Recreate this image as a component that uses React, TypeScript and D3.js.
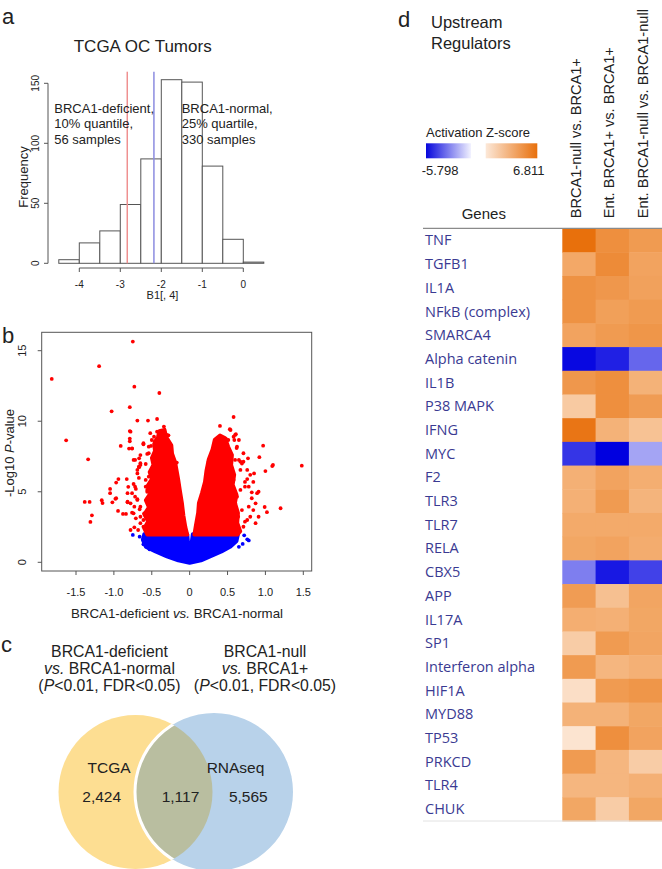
import React from 'react';
import * as d3 from 'd3';

// ---- panel a: histogram of B1[, 4] ----
const histBinStarts = [-4.5, -4, -3.5, -3, -2.5, -2, -1.5, -1, -0.5, 0];
const histCounts = [3, 17, 27, 49, 87, 153, 151, 81, 20, 1];
const histTicksX = [-4, -3, -2, -1, 0];
const histTicksY = [0, 50, 100, 150];
const cutoffDeficient = -2.83;
const cutoffNormal = -2.18;
const noteDeficient = ['BRCA1-deficient,', '10% quantile,', '56 samples'];
const noteNormal = ['BRCA1-normal,', '25% quartile,', '330 samples'];

// ---- panel b: volcano ----
const volcanoTicksX = [-1.5, -1, -0.5, 0, 0.5, 1, 1.5];
const volcanoTickLabelsX = ['-1.5', '-1.0', '-0.5', '0', '0.5', '1.0', '1.5'];
const volcanoTicksY = [0, 5, 10, 15];
const blueCloud: [number, number][] = [
  [-0.6, 2.0], [-0.62, 1.6], [-0.58, 1.1], [-0.45, 0.75], [-0.3, 0.4], [-0.15, 0.12], [0, -0.05],
  [0.15, 0.12], [0.27, 0.4], [0.42, 0.75], [0.54, 1.1], [0.62, 1.5], [0.64, 2.0],
  [0.04, 2.0], [0.004, 0.55], [-0.004, 0.55], [-0.03, 2.0],
];
const redCloudLeft: [number, number][] = [
  [-0.56, 1.95], [-0.6, 2.4], [-0.55, 2.9], [-0.6, 3.4], [-0.54, 3.9], [-0.58, 4.4], [-0.52, 4.9],
  [-0.56, 5.4], [-0.5, 5.9], [-0.53, 6.4], [-0.48, 6.9], [-0.5, 7.4], [-0.46, 7.9], [-0.47, 8.4],
  [-0.42, 8.9], [-0.4, 9.3], [-0.33, 9.4], [-0.31, 8.9], [-0.24, 8.3], [-0.23, 7.7], [-0.19, 7.1],
  [-0.17, 6.5], [-0.15, 5.9], [-0.13, 5.2], [-0.1, 4.2], [-0.08, 3.3], [-0.055, 2.5], [-0.03, 1.95],
];
const redCloudRight: [number, number][] = [
  [0.06, 1.95], [0.08, 2.6], [0.11, 3.5], [0.12, 4.2], [0.16, 4.9], [0.2, 5.7], [0.22, 6.5],
  [0.25, 7.3], [0.3, 8.0], [0.33, 8.7], [0.4, 9.0], [0.47, 8.8], [0.51, 8.2], [0.56, 7.6],
  [0.55, 6.9], [0.59, 6.2], [0.57, 5.5], [0.62, 4.8], [0.6, 4.2], [0.64, 3.5], [0.63, 2.8],
  [0.67, 2.2], [0.63, 1.95],
];
const redPoints: [number, number][] = [
  [-1.82, 13.0], [-0.75, 15.65], [-1.195, 13.9], [-0.73, 12.45], [-0.4, 12.0], [-0.79, 11.0],
  [-1.03, 10.7], [-1.63, 8.65], [-0.69, 10.05], [-0.55, 10.05], [-0.43, 10.16], [-1.34, 7.3],
  [-0.91, 8.25], [-1.385, 4.28], [-1.32, 4.28], [-1.29, 3.33], [-1.31, 2.86], [-1.16, 4.4],
  [-1.15, 4.2], [-1.05, 5.2], [-1.05, 4.9], [-0.98, 4.5], [-0.97, 5.65], [-0.94, 5.9],
  [-0.945, 3.64], [-0.83, 5.9], [-0.81, 5.35], [-1.02, 4.25], [-0.82, 4.9], [-0.82, 4.25],
  [-0.88, 3.43], [-0.84, 3.43], [-0.78, 2.29], [-0.79, 9.3], [-0.79, 8.77], [-0.79, 8.58],
  [-0.8, 8.06], [-0.76, 8.06], [-0.61, 8.37], [-0.51, 8.25], [-0.46, 8.58], [-0.28, 9.0],
  [-0.78, 9.26], [-0.54, 8.2], [-0.72, 7.26], [-0.67, 6.78], [-0.76, 8.08], [-0.5, 8.67],
  [-0.47, 8.9], [-0.43, 9.26], [-0.4, 9.15], [-0.3, 9.03], [-0.34, 8.67], [-0.28, 8.44],
  [-0.17, 7.07], [-0.65, 7.6], [-0.667, 7.37], [-0.65, 6.9], [-0.667, 6.74], [-0.56, 7.68],
  [-0.58, 6.97], [-0.69, 6.3], [-0.67, 5.98], [-0.74, 5.55], [-0.71, 5.2], [-0.76, 4.9],
  [-0.72, 4.65], [-0.69, 4.47], [-0.78, 4.18], [-0.73, 3.94], [-0.66, 3.76], [-0.76, 3.52],
  [-0.65, 3.23], [-0.71, 3.12], [-0.65, 2.77], [-0.73, 2.48], [-0.68, 2.29], [-0.61, 2.52],
  [-0.58, 5.36], [-0.57, 4.42], [-0.6, 3.47], [-0.54, 6.07], [-0.56, 5.0], [-0.97, 4.54],
  [-0.82, 4.3], [-0.74, 7.26], [-0.69, 6.55], [-0.72, 5.36], [-0.69, 4.42], [-0.65, 3.94],
  [-0.74, 3.47], [-0.61, 3.0], [-0.58, 5.84], [-0.56, 5.13], [-0.54, 7.73], [-0.61, 8.44],
  [-0.65, 7.02], [-0.52, 9.15], [-0.39, 9.15], [-0.34, 9.62],
  [0.58, 10.3], [0.4, 9.67], [0.53, 9.43], [0.61, 9.08], [0.48, 8.74], [0.59, 8.67], [0.97, 8.27],
  [0.62, 8.1], [1.48, 6.85], [1.1, 6.9], [1.09, 6.82], [1.0, 6.47], [0.92, 7.45], [0.77, 7.37],
  [1.2, 3.83], [1.02, 3.55], [0.99, 3.92], [0.91, 5.0], [0.82, 4.96], [0.85, 6.3], [0.76, 5.9],
  [0.65, 7.26], [0.69, 7.0], [0.76, 6.55], [0.8, 6.2], [0.84, 5.7], [0.73, 5.7], [0.78, 5.36],
  [0.89, 4.9], [0.82, 4.54], [0.87, 4.18], [0.78, 3.94], [0.84, 3.7], [0.91, 3.23], [0.8, 3.23],
  [0.73, 2.88], [0.71, 2.52], [0.87, 2.77], [0.65, 2.29], [0.67, 5.13], [0.6, 4.18], [0.64, 3.23],
  [0.58, 5.84], [0.6, 7.26], [0.51, 7.73], [0.71, 7.13], [0.32, 7.73], [0.38, 8.2], [0.45, 8.44],
  [0.51, 8.67], [0.58, 8.9], [0.625, 8.2], [0.67, 7.13], [0.25, 7.13], [0.295, 6.78],
  [0.23, 5.84], [0.18, 4.9], [0.71, 7.73], [0.67, 6.55], [0.73, 5.36], [0.625, 4.65], [0.69, 3.7],
  [0.76, 3.0], [0.65, 8.67], [0.54, 9.38], [0.6, 9.03],
];
const bluePoints: [number, number][] = [
  [-0.75, 1.94], [-0.66, 1.82], [-0.61, 1.28], [-0.53, 0.92],
  [0.76, 1.63], [0.72, 1.91], [0.78, 1.55], [0.7, 1.3], [0.65, 1.1],
];

// ---- panel c: venn ----
const vennTitleLeft = ['BRCA1-deficient', 'vs. BRCA1-normal', '(P<0.01, FDR<0.05)'];
const vennTitleRight = ['BRCA1-null', 'vs. BRCA1+', '(P<0.01, FDR<0.05)'];
const vennSets = ['TCGA', 'RNAseq'];
const vennCounts = ['2,424', '1,117', '5,565'];

// ---- panel d: upstream regulators heatmap ----
const genes = ['TNF', 'TGFB1', 'IL1A', 'NFkB (complex)', 'SMARCA4', 'Alpha catenin', 'IL1B',
  'P38 MAPK', 'IFNG', 'MYC', 'F2', 'TLR3', 'TLR7', 'RELA', 'CBX5', 'APP', 'IL17A', 'SP1',
  'Interferon alpha', 'HIF1A', 'MYD88', 'TP53', 'PRKCD', 'TLR4', 'CHUK'];
const comparisons = ['BRCA1-null vs. BRCA1+', 'Ent. BRCA1+ vs. BRCA1+', 'Ent. BRCA1-null vs. BRCA1-null'];
const zNullVsPlus = [6.8, 3.5, 4.8, 4.8, 3.8, -5.6, 4.5, 1.8, 6.5, -4.5, 3.1, 3.1, 3.4, 3.6, -2.7,
  4.2, 3.2, 1.7, 4.3, 0.8, 3.0, 0.5, 4.3, 2.8, 3.6];
const zEntPlusVsPlus = [5.0, 5.2, 4.5, 4.0, 4.3, -5.0, 5.0, 5.0, 3.0, -5.798, 3.8, 4.3, 3.4, 3.8,
  -5.2, 2.3, 3.1, 4.3, 2.8, 4.3, 3.0, 5.0, 2.8, 2.8, 1.7];
const zEntNullVsNull = [4.3, 3.8, 3.9, 4.3, 4.6, -3.3, 3.0, 4.2, 2.2, -1.8, 3.2, 2.9, 3.4, 3.3,
  -4.2, 3.7, 3.6, 3.7, 3.1, 4.6, 3.6, 3.8, 1.7, 3.1, 3.6];
const zMin = -5.798;
const zMax = 6.811;

const sans = 'Liberation Sans, Arial, Helvetica, sans-serif';
const ink = '#222';

const App = () => {
  // histogram scales
  const hx = d3.scaleLinear().domain([-4, 0]).range([79.3, 243.3]);
  const hy = d3.scaleLinear().domain([0, 150]).range([263.3, 83.3]);

  // volcano scales
  const vx = d3.scaleLinear().domain([-1.5, 1.5]).range([76, 303.3]);
  const vy = d3.scaleLinear().domain([0, 15]).range([562.3, 350.7]);
  const box = { left: 41.7, right: 311.7, top: 332.3, bottom: 571 };
  const cloud = d3.line<[number, number]>().x((d) => vx(d[0])).y((d) => vy(d[1]));

  // heatmap scales
  const rowScale = d3.scaleBand<string>().domain(genes).range([228.6, 821]);
  const colScale = d3.scaleBand<string>().domain(comparisons).range([562.3, 662.2]);
  const posColor = d3.scaleLinear<string>().domain([0, 3.4, zMax]).range(['#fdeee2', '#f3aa6a', '#e8700c']);
  const negColor = d3.scaleLinear<string>().domain([zMin, -2.9, 0]).range(['#0000e0', '#7676ee', '#f0f0ff']);
  const zColor = (z: number) => (z < 0 ? negColor(z) : posColor(z));
  const zColumns = [zNullVsPlus, zEntPlusVsPlus, zEntNullVsNull];

  // venn geometry
  const cy = 792;
  const left = { cx: 135.5, r: 77 };
  const right = { cx: 214, r: 79 };

  return (
    <svg width={662} height={869} style={{ position: 'absolute', left: 0, top: 0, background: '#fff' }}
      fontFamily={sans}>
      <defs>
        <clipPath id="clipRight"><circle cx={right.cx} cy={cy} r={right.r} /></clipPath>
        <clipPath id="clipLeft"><circle cx={left.cx} cy={cy} r={left.r} /></clipPath>
        <linearGradient id="gradBlue" x1="0" x2="1" y1="0" y2="0">
          <stop offset="0" stopColor="#0606dc" />
          <stop offset="1" stopColor="#f2f2ff" />
        </linearGradient>
        <linearGradient id="gradOrange" x1="0" x2="1" y1="0" y2="0">
          <stop offset="0" stopColor="#fce8d8" />
          <stop offset="1" stopColor="#e8700c" />
        </linearGradient>
      </defs>

      {/* ---------------- a ---------------- */}
      <text x={2} y={24} fontSize={22} fill={ink}>a</text>
      <text x={142.7} y={51.7} fontSize={17} textAnchor="middle" fill={ink}>TCGA OC Tumors</text>
      {histCounts.map((c, i) => (
        <rect key={i} x={hx(histBinStarts[i])} y={hy(c)} width={hx(histBinStarts[i] + 0.5) - hx(histBinStarts[i])}
          height={hy(0) - hy(c)} fill="#fff" stroke="#555" strokeWidth={1} />
      ))}
      <line x1={hx(cutoffDeficient)} x2={hx(cutoffDeficient)} y1={71.7} y2={hy(0)} stroke="#ef9090" strokeWidth={1.5} />
      <line x1={hx(cutoffNormal)} x2={hx(cutoffNormal)} y1={71.7} y2={hy(0)} stroke="#8c8ce0" strokeWidth={1.5} />
      {/* x axis */}
      <line x1={hx(-4)} x2={hx(0)} y1={268} y2={268} stroke="#555" />
      {histTicksX.map((t) => (
        <g key={t}>
          <line x1={hx(t)} x2={hx(t)} y1={268} y2={272} stroke="#555" />
          <text x={hx(t)} y={288.3} fontSize={10} textAnchor="middle" fill={ink}>{t}</text>
        </g>
      ))}
      <text x={162.5} y={299.3} fontSize={11} textAnchor="middle" fill={ink}>B1[, 4]</text>
      {/* y axis */}
      <line x1={48} x2={48} y1={hy(0)} y2={hy(150)} stroke="#555" />
      {histTicksY.map((t) => (
        <g key={t}>
          <line x1={44} x2={48} y1={hy(t)} y2={hy(t)} stroke="#555" />
          <text transform={`translate(38.5,${hy(t)}) rotate(-90)`} fontSize={10} textAnchor="middle" fill={ink}>{t}</text>
        </g>
      ))}
      <text transform={`translate(27.5,177) rotate(-90)`} fontSize={13} textAnchor="middle" fill={ink}>Frequency</text>
      {noteDeficient.map((s, i) => (
        <text key={s} x={54.3} y={112.5 + i * 15.5} fontSize={13} fill={ink}>{s}</text>
      ))}
      {noteNormal.map((s, i) => (
        <text key={s} x={181.7} y={112.5 + i * 15.5} fontSize={13} fill={ink}>{s}</text>
      ))}

      {/* ---------------- b ---------------- */}
      <text x={2} y={343} fontSize={22} fill={ink}>b</text>
      <path d={cloud(blueCloud) + 'Z'} fill="#0000ff" stroke="#0000ff" strokeWidth={3.6} strokeLinejoin="round" />
      {bluePoints.map((p, i) => (
        <circle key={'b' + i} cx={vx(p[0])} cy={vy(p[1])} r={1.9} fill="#0000ff" />
      ))}
      <path d={cloud(redCloudLeft) + 'Z'} fill="#ff0000" stroke="#ff0000" strokeWidth={3.6} strokeLinejoin="round" />
      <path d={cloud(redCloudRight) + 'Z'} fill="#ff0000" stroke="#ff0000" strokeWidth={3.6} strokeLinejoin="round" />
      {redPoints.map((p, i) => (
        <circle key={'r' + i} cx={vx(p[0])} cy={vy(p[1])} r={1.9} fill="#ff0000" />
      ))}
      <rect x={box.left} y={box.top} width={box.right - box.left} height={box.bottom - box.top}
        fill="none" stroke="#555" strokeWidth={1} />
      {volcanoTicksX.map((t, i) => (
        <g key={t}>
          <line x1={vx(t)} x2={vx(t)} y1={box.bottom} y2={box.bottom + 4} stroke="#555" />
          <text x={vx(t)} y={595.7} fontSize={11} textAnchor="middle" fill={ink}>{volcanoTickLabelsX[i]}</text>
        </g>
      ))}
      {volcanoTicksY.map((t) => (
        <g key={t}>
          <line x1={box.left - 4} x2={box.left} y1={vy(t)} y2={vy(t)} stroke="#555" />
          <text transform={`translate(26,${vy(t)}) rotate(-90)`} fontSize={11} textAnchor="middle" fill={ink}>{t}</text>
        </g>
      ))}
      <text x={177} y={618.3} fontSize={13.3} textAnchor="middle" fill={ink}>
        BRCA1-deficient <tspan fontStyle="italic">vs.</tspan> BRCA1-normal
      </text>
      <text transform={`translate(13.5,453) rotate(-90)`} fontSize={13} textAnchor="middle" fill={ink}>
        -Log10 <tspan fontStyle="italic">P</tspan>-value
      </text>

      {/* ---------------- c ---------------- */}
      <text x={1} y={651.5} fontSize={22} fill={ink}>c</text>
      {[{ lines: vennTitleLeft, x: 109.5 }, { lines: vennTitleRight, x: 265 }].map((blk) => (
        blk.lines.map((s, i) => {
          let body: React.ReactNode = s;
          if (s.startsWith('vs.')) body = <><tspan fontStyle="italic">vs.</tspan>{s.slice(3)}</>;
          if (s.startsWith('(P')) body = <>(<tspan fontStyle="italic">P</tspan>{s.slice(2)}</>;
          return (
            <text key={blk.x + s} x={blk.x} y={656.7 + i * 17.2} fontSize={15.8} textAnchor="middle" fill={ink}>{body}</text>
          );
        })
      ))}
      <circle cx={left.cx} cy={cy} r={left.r} fill="#fdde92" />
      <circle cx={right.cx} cy={cy} r={right.r} fill="#b8d2ea" />
      <circle cx={left.cx} cy={cy} r={left.r} fill="#b9bea0" clipPath="url(#clipRight)" />
      <circle cx={right.cx} cy={cy} r={right.r} fill="none" stroke="#fff" strokeWidth={3} clipPath="url(#clipLeft)" />
      <text x={109} y={773.3} fontSize={15.5} textAnchor="middle" fill={ink}>{vennSets[0]}</text>
      <text x={235.5} y={773.3} fontSize={15.5} textAnchor="middle" fill={ink}>{vennSets[1]}</text>
      <text x={101.7} y={801.7} fontSize={15.5} textAnchor="middle" fill={ink}>{vennCounts[0]}</text>
      <text x={180.5} y={801.7} fontSize={15.5} textAnchor="middle" fill={ink}>{vennCounts[1]}</text>
      <text x={248.3} y={801.7} fontSize={15.5} textAnchor="middle" fill={ink}>{vennCounts[2]}</text>

      {/* ---------------- d ---------------- */}
      <text x={398} y={27} fontSize={22} fill={ink}>d</text>
      <text x={431} y={28.3} fontSize={16.5} fill={ink}>Upstream</text>
      <text x={431} y={49} fontSize={16.5} fill={ink}>Regulators</text>
      <text x={426} y={136.7} fontSize={13} fill={ink}>Activation Z-score</text>
      <rect x={426} y={143.3} width={45} height={15} fill="url(#gradBlue)" />
      <rect x={485.7} y={143.3} width={51.6} height={15} fill="url(#gradOrange)" />
      <text x={421.7} y={175} fontSize={13} fill={ink}>{zMin}</text>
      <text x={544.5} y={175} fontSize={13} textAnchor="end" fill={ink}>{zMax}</text>
      <text x={483.8} y={219.3} fontSize={15} textAnchor="middle" fill={ink}>Genes</text>
      {comparisons.map((c) => (
        <text key={c} transform={`translate(${(colScale(c) as number) + colScale.bandwidth() / 2 + 2},218.3) rotate(-90)`}
          fontSize={14.6} fill={ink}>{c}</text>
      ))}
      {genes.map((g, i) => (
        <g key={g}>
          {zColumns.map((col, j) => (
            <rect key={j} x={colScale(comparisons[j])} y={rowScale(g)} width={colScale.bandwidth() + 0.5}
              height={rowScale.bandwidth() + 0.5} fill={zColor(col[i])} />
          ))}
          <text x={425} y={(rowScale(g) as number) + rowScale.bandwidth() / 2 + 5} fontSize={14.5}
            fontFamily="Open Sans, Noto Sans, sans-serif" fill="#3a3a92">{g}</text>
        </g>
      ))}
      <line x1={423} x2={662} y1={228.3} y2={228.3} stroke="#8a8a8a" strokeWidth={1.2} />
      <line x1={423} x2={662} y1={821} y2={821} stroke="#e2e2e2" strokeWidth={1} />
    </svg>
  );
};

export default App;
